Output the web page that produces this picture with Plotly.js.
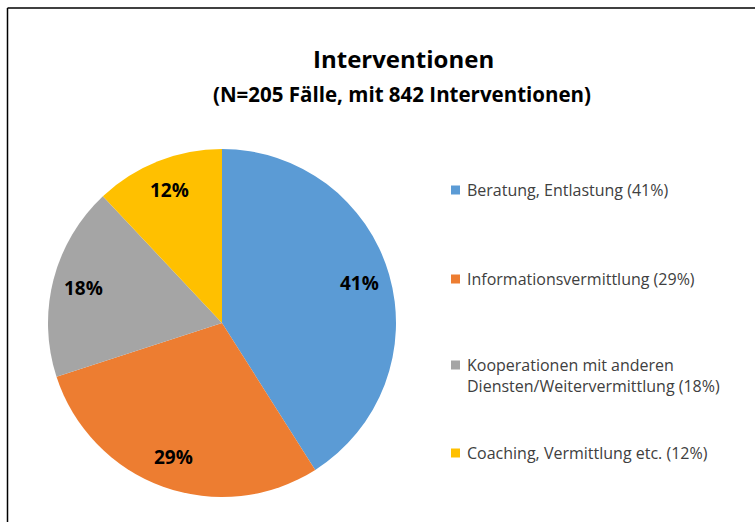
<!DOCTYPE html>
<html>
<head>
<meta charset="utf-8">
<script src="https://cdn.plot.ly/plotly-3.0.1.min.js"></script>
<style>html,body{margin:0;padding:0;background:#fff;}#chart{width:755px;height:522px;}</style>
</head>
<body>
<div id="chart"></div>
<script>
const categories = ["Beratung, Entlastung", "Informationsvermittlung", "Kooperationen mit anderen<br>Diensten/Weitervermittlung", "Coaching, Vermittlung etc."];
const shares = [41, 29, 18, 12];
const colors = ["#5B9BD5", "#ED7D31", "#A5A5A5", "#FFC000"];
const titleText = "Interventionen";
const subtitleText = "(N=205 Fälle, mit 842 Interventionen)";

const W = 755, H = 522;
const cx = 222, cy = 323, R = 174;
const dom = {x: [(cx - R) / W, (cx + R) / W], y: [1 - (cy + R) / H, 1 - (cy - R) / H]};
const FONT = "'Open Sans', 'Noto Sans', sans-serif";

const trace = {
  type: "pie",
  values: shares,
  labels: categories,
  marker: {colors: colors, line: {width: 0}},
  sort: false,
  direction: "clockwise",
  rotation: 0,
  textinfo: "none",
  hoverinfo: "label+percent",
  domain: dom,
  showlegend: false
};

const annotations = [];
const shapes = [];
// data labels derived from values
const total = shares.reduce((a, b) => a + b, 0);
let cum = 0;
shares.forEach((v, i) => {
  const mid = (cum + v / 2) / total;
  cum += v;
  const ang = mid * 2 * Math.PI; // clockwise from top
  const rr = 0.82 * R;
  const px = cx + rr * Math.sin(ang);
  const py = cy - rr * Math.cos(ang);
  annotations.push({
    x: px / W, y: 1 - py / H, xref: "paper", yref: "paper",
    text: "<b>" + v + "%</b>", showarrow: false,
    font: {family: FONT, size: 19, color: "#000"},
    xanchor: "center", yanchor: "middle"
  });
});

// title
annotations.push({x: 403 / W, y: 1 - 59 / H, xref: "paper", yref: "paper", showarrow: false,
  text: "<b>" + titleText + "</b>", font: {family: FONT, size: 24, color: "#000"},
  xanchor: "center", yanchor: "middle"});
annotations.push({x: 402 / W, y: 1 - 94 / H, xref: "paper", yref: "paper", showarrow: false,
  text: "<b>" + subtitleText + "</b>", font: {family: FONT, size: 20.5, color: "#000"},
  xanchor: "center", yanchor: "middle"});

// custom legend
const legendY = [190, 279, 375, 453];
categories.forEach((c, i) => {
  const y = legendY[i];
  annotations.push({x: 465 / W, y: 1 - y / H, xref: "paper", yref: "paper", showarrow: false,
    text: c + " (" + shares[i] + "%)", align: "left",
    font: {family: FONT, size: 16, color: "#404040"},
    xanchor: "left", yanchor: "middle"});
  const my = c.indexOf("<br>") >= 0 ? y - 10 : y;
  shapes.push({type: "rect", xref: "paper", yref: "paper",
    x0: 451 / W, x1: 460 / W, y0: 1 - (my + 4.5) / H, y1: 1 - (my - 4.5) / H,
    fillcolor: colors[i], line: {width: 0}});
});

// chart border (left and top)
shapes.push({type: "line", xref: "paper", yref: "paper", x0: 7.5 / W, x1: 7.5 / W, y0: 0, y1: 1 - 8 / H, line: {color: "#000", width: 1.5}});
shapes.push({type: "line", xref: "paper", yref: "paper", x0: 7.5 / W, x1: 1, y0: 1 - 8 / H, y1: 1 - 8 / H, line: {color: "#000", width: 1.5}});

const layout = {
  width: W, height: H,
  margin: {l: 0, r: 0, t: 0, b: 0},
  paper_bgcolor: "#fff",
  showlegend: false,
  annotations: annotations,
  shapes: shapes
};

Plotly.newPlot("chart", [trace], layout, {displayModeBar: false, staticPlot: true});
</script>
</body>
</html>
